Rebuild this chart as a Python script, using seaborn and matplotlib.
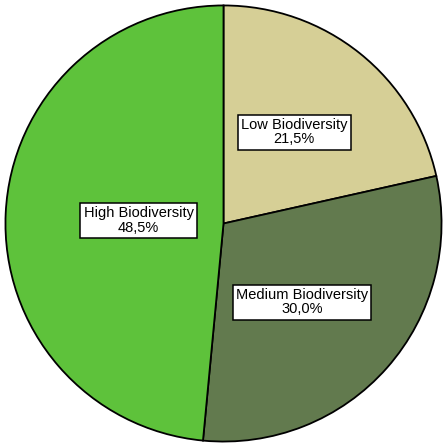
import numpy as np
import matplotlib
matplotlib.use("Agg")
import matplotlib.pyplot as plt
import seaborn as sns

categories = ["Low Biodiversity", "Medium Biodiversity", "High Biodiversity"]
values = [21.5, 30.0, 48.5]
value_labels = ["21,5%", "30,0%", "48,5%"]
colors = ["#D6CF96", "#627A4E", "#5EC23B"]

# label layout (radius, angle offset in degrees)
label_radius = [0.53, 0.51, 0.39]
label_angle_offset = [1.0, -3.6, 0.7]

sns.set_style("white")
plt.rcParams['font.family'] = ['Liberation Sans', 'DejaVu Sans']

fig = plt.figure(figsize=(4.47, 4.47), dpi=100)
ax = fig.add_axes([0, 0, 1, 1])
wedges, _ = ax.pie(values, colors=colors, startangle=90, counterclock=False,
                   wedgeprops=dict(edgecolor="black", linewidth=1.3))
for w, cat, lab, r, da in zip(wedges, categories, value_labels, label_radius, label_angle_offset):
    ang = np.deg2rad((w.theta1 + w.theta2) / 2 + da)
    ax.text(r * np.cos(ang), r * np.sin(ang), f"{cat}\n{lab}", ha="center", va="center",
            fontsize=10.5, linespacing=1.05, color="black",
            bbox=dict(boxstyle="square,pad=0.22", facecolor="white", edgecolor="black", linewidth=1.1))
ax.set_xlim(-1.025, 1.025)
ax.set_ylim(-1.025, 1.025)
ax.set_aspect("equal")
ax.axis("off")
fig.savefig("out.png", dpi=100, facecolor="white")
